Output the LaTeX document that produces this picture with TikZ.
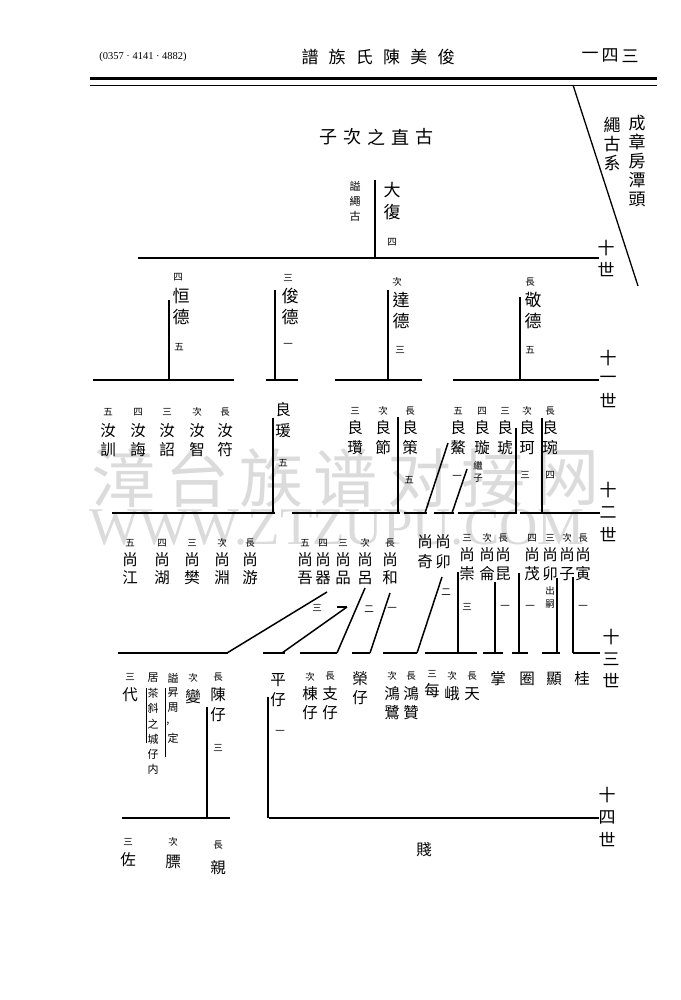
\documentclass[tikz,border=0pt]{standalone}
\usepackage{fontspec}
\newfontfamily\tc{Noto Sans CJK TC}
\newfontfamily\wmcjk{Noto Sans CJK SC}
\newfontfamily\wmlat{Liberation Serif}
\newfontfamily\hdlat{Liberation Serif}
\newcommand\vcol[6]{\foreach \c [count=\i] in {#6}{\node[#2] (#1-\i) at (#3,{#4+(\i-1)*#5}) {\c};}}
\newcommand\vl[4]{\coordinate (#1a) at (#2,#3); \coordinate (#1b) at (#2,#4); \draw[ln] (#1a) -- (#1b);}
\newcommand\hb[4]{\coordinate (#1a) at (#2,#4); \coordinate (#1b) at (#3,#4); \draw[ln] (#1a) -- (#1b);}
\newcommand\dl[5]{\coordinate (#1a) at (#2,#3); \coordinate (#1b) at (#4,#5); \draw[ln] (#1a) -- (#1b);}
\begin{document}
\begin{tikzpicture}[x=1pt,y=-1pt,
  tbig/.style={font=\tc\fontsize{17}{17}\selectfont, inner sep=0pt},
  tmid/.style={font=\tc\fontsize{15.5}{15.5}\selectfont, inner sep=0pt},
  tsml/.style={font=\tc\fontsize{9.5}{9.5}\selectfont, inner sep=0pt},
  tnote/.style={font=\tc\fontsize{11}{11}\selectfont, inner sep=0pt},
  ln/.style={line width=1.5pt},
  hair/.style={line width=0.5pt},
  wmark/.style={text=black!14, inner sep=0pt}]
\useasboundingbox (0,0) rectangle (680,1000);
\fill[white] (0,0) rectangle (680,1000);
% watermark
\foreach \w [count=\i] in {漳,台,族,谱,对,接,网}{\node[wmark, font=\wmcjk\fontsize{64}{64}\selectfont] (wm-\i) at ({123+(\i-1)*74},478) {\w};}
\node[wmark, font=\wmlat\fontsize{53}{53}\selectfont] (wmurl) at (337,527) {WWW.ZTZUPU.COM};
% header
\node[font=\hdlat\fontsize{10.5}{10.5}\selectfont, inner sep=0pt] (code) at (143,57) {(0357 · 4141 · 4882)};
\foreach \t [count=\i] in {譜,族,氏,陳,美,俊}{\node[tbig] (tt-\i) at ({310+(\i-1)*27.2},57) {\t};}
\foreach \t [count=\i] in {一,四,三}{\node[tbig] (pn-\i) at ({590+(\i-1)*20},56) {\t};}
\coordinate (r1a) at (90,79); \coordinate (r1b) at (657,79);
\draw[line width=3pt] (r1a) -- (r1b);
\coordinate (r2a) at (90,85); \coordinate (r2b) at (657,85);
\draw[line width=0.8pt] (r2a) -- (r2b);
\coordinate (dga) at (573,85); \coordinate (dgb) at (638,286);
\draw[line width=1.3pt] (dga) -- (dgb);
% right side
\vcol{cz}{tbig}{637}{123}{19}{成,章,房,潭,頭}
\vcol{sg}{tbig}{612}{125}{19}{繩,古,系}
% title
\foreach \t [count=\i] in {子,次,之,直,古}{\node[tbig, font=\tc\fontsize{18}{18}\selectfont] (ti-\i) at ({328+(\i-1)*24},137) {\t};}
% generation 10
\vcol{df}{tbig}{392}{190}{22}{大,復}
\node[tsml] (df-n) at (392,242) {四};
\vcol{dfs}{tnote}{355}{186}{15}{謚,繩,古}
\vl{dfl}{375}{180}{258}
\hb{g10}{138}{599}{258}
\vcol{s10}{tbig}{606}{248}{22}{十,世}
% generation 11
\node[tsml] (hd-o) at (178,277) {四}; \vcol{hd}{tbig}{181}{296}{21}{恒,德} \node[tsml] (hd-n) at (179,347) {五};
\vl{hdl}{169}{300}{380}
\node[tsml] (jd-o) at (288,278) {三}; \vcol{jd}{tbig}{290}{296}{21}{俊,德} \node[tsml] (jd-n) at (288,345) {一};
\vl{jdl}{275}{290}{380}
\node[tsml] (dd-o) at (397,282) {次}; \vcol{dd}{tbig}{401}{300}{21}{達,德} \node[tsml] (dd-n) at (400,350) {三};
\vl{ddl}{388}{290}{380}
\node[tsml] (jn-o) at (530,282) {長}; \vcol{jn}{tbig}{533}{300}{21}{敬,德} \node[tsml] (jn-n) at (530,350) {五};
\vl{jnl}{520}{297}{380}
\hb{g11a}{93}{234}{380}
\hb{g11b}{266}{298}{380}
\hb{g11c}{335}{422}{380}
\hb{g11d}{453}{599}{380}
\vcol{s11}{tbig}{608}{358}{21.5}{十,一,世}
% generation 12
\foreach \x/\o/\n [count=\i] in {108/五/訓,138/四/誨,167/三/詔,197/次/智,225/長/符}{
  \node[tsml] (ru-o\i) at (\x,412) {\o};
  \node[tmid] (ru-a\i) at (\x,431) {汝};
  \node[tmid] (ru-b\i) at (\x,450) {\n};}
\vcol{ly}{tmid}{283}{410}{21}{良,瑗} \node[tsml] (ly-n) at (283,463) {五};
\vl{lyl}{273}{418}{513}
\foreach \x/\o/\n [count=\i] in {355/三/瓚,383/次/節,410/長/策,458/五/鰲,482/四/璇,505/三/琥,527/次/珂,550/長/琬}{
  \node[tsml] (lg-o\i) at (\x,411) {\o};
  \node[tmid] (lg-a\i) at (\x,428) {良};
  \node[tmid] (lg-b\i) at (\x,448) {\n};}
\node[tsml] (lc-n) at (409,480) {五};
\vl{lcl}{398}{417}{513}
\node[tsml] (la-n) at (457,477) {一};
\dl{lal}{448}{443}{425}{513}
\vcol{jz}{tsml}{478}{466}{12}{繼,子}
\dl{lxl}{467}{469}{452}{513}
\vl{lkl}{516}{428}{513} \node[tsml] (lk-n) at (525,475) {三};
\vl{lwl}{542}{418}{513} \node[tsml] (lw-n) at (550,475) {四};
\hb{g12a}{112}{275}{513}
\hb{g12b}{292}{400}{513}
\hb{g12c}{404}{427}{513}
\hb{g12d}{434}{454}{513}
\hb{g12e}{458}{517}{513}
\hb{g12f}{520}{600}{513}
\vcol{s12}{tbig}{608}{490}{22.5}{十,二,世}
% generation 13
\foreach \x/\o/\n [count=\i] in {130/五/江,162/四/湖,192/三/樊,222/次/淵,250/長/游,305/五/吾,323/四/器,343/三/品,365/次/呂,390/長/和}{
  \node[tsml] (sa-o\i) at (\x,543) {\o};
  \node[tmid] (sa-a\i) at (\x,560) {尚};
  \node[tmid] (sa-b\i) at (\x,578) {\n};}
\vcol{sq}{tmid}{425}{542}{20}{尚,奇}
\vcol{smo}{tmid}{443}{542}{20}{尚,卯}
\foreach \x/\o/\n [count=\i] in {467/三/崇,487/次/侖,503/長/昆,532/四/茂,550/三/卯,567/次/子,583/長/寅}{
  \node[tsml] (sb-o\i) at (\x,538) {\o};
  \node[tmid] (sb-a\i) at (\x,555) {尚};
  \node[tmid] (sb-b\i) at (\x,574) {\n};}
\vcol{cs}{tsml}{550}{591}{13}{出,嗣}
\dl{sql}{327}{592}{227}{653}
\dl{spl}{347}{607}{282}{653}
\coordinate (sptk) at (337,607); \draw[ln] (sptk) -- (spla);
\dl{srl}{365}{588}{337}{653}
\dl{shl}{390}{593}{370}{653}
\node[tsml] (sq-n) at (317,608) {三};
\node[tsml] (sr-n) at (369,609) {二};
\node[tsml] (sh-n) at (392,609) {一};
\dl{sml}{442}{577}{417}{653} \node[tsml] (sm-n) at (446,592) {二};
\vl{scl}{458}{572}{653} \node[tsml] (sc-n) at (467,607) {三};
\vl{skl}{495}{582}{653} \node[tsml] (sk-n) at (505,607) {一};
\vl{sol}{519}{573}{653} \node[tsml] (so-n) at (530,607) {一};
\vl{szl}{557}{578}{653}
\vl{syl}{573}{577}{653} \node[tsml] (sy-n) at (583,607) {一};
\hb{g13a}{118}{228}{653}
\hb{g13b}{263}{285}{653}
\hb{g13c}{300}{337}{653}
\hb{g13d}{352}{370}{653}
\hb{g13e}{383}{417}{653}
\hb{g13f}{425}{477}{653}
\hb{g13g}{483}{503}{653}
\hb{g13h}{512}{528}{653}
\hb{g13i}{542}{560}{653}
\hb{g13j}{573}{600}{653}
\vcol{s13}{tbig}{611}{637}{22}{十,三,世}
% generation 14
\node[tsml] (dai-o) at (130,677) {三}; \node[tmid] (dai) at (130,695) {代};
\vcol{jc}{tnote}{153}{678}{15.3}{居,茶,斜,之,城,仔,内}
\coordinate (bk1a) at (146,688); \coordinate (bk1b) at (146,743); \draw[hair] (bk1a) -- (bk1b);
\coordinate (bk2a) at (165,688); \coordinate (bk2b) at (165,757); \draw[hair] (bk2a) -- (bk2b);
\vcol{ss}{tnote}{173}{678}{15}{謚,昇,周}
\node[tnote] (ss-c) at (168,724) {,};
\node[tnote] (ss-d) at (173,738) {定};
\node[tsml] (bn-o) at (193,678) {次}; \node[tmid] (bn) at (193,697) {變};
\node[tsml] (czo) at (218,677) {長}; \vcol{czi}{tmid}{218}{695}{20}{陳,仔} \node[tsml] (czi-n) at (218,748) {三};
\vl{czl}{207}{707}{818}
\vcol{pz}{tmid}{278}{680}{20}{平,仔} \node[tsml] (pz-n) at (280,732) {一};
\vl{pzl}{268}{697}{818}
\node[tsml] (dz-o) at (310,677) {次}; \vcol{dz}{tmid}{310}{694}{19}{棟,仔}
\node[tsml] (zz-o) at (330,676) {長}; \vcol{zz}{tmid}{330}{694}{19}{支,仔}
\vcol{rz}{tmid}{360}{679}{19}{榮,仔}
\node[tsml] (hl-o) at (392,676) {次}; \vcol{hl}{tmid}{392}{694}{19}{鴻,鷺}
\node[tsml] (hz-o) at (411,676) {長}; \vcol{hz}{tmid}{411}{694}{19}{鴻,贊}
\node[tsml] (mm-o) at (432,674) {三}; \node[tmid] (mm) at (432,691) {每};
\node[tsml] (ee-o) at (452,676) {次}; \node[tmid] (ee) at (452,694) {峨};
\node[tsml] (tto) at (472,676) {長}; \node[tmid] (tt2) at (472,694) {天};
\node[tmid] (zh) at (498,679) {掌};
\node[tmid] (qu) at (527,679) {圈};
\node[tmid] (xi) at (554,679) {顯};
\node[tmid] (gu) at (582,679) {桂};
\hb{g14a}{122}{230}{818}
\hb{g14b}{269}{599}{818}
\vcol{s14}{tbig}{607}{795}{22.5}{十,四,世}
% generation 15
\node[tsml] (zu-o) at (128,842) {三}; \node[tmid] (zu) at (128,860) {佐};
\node[tsml] (pi-o) at (173,842) {次}; \node[tmid] (pi) at (173,862) {膘};
\node[tsml] (qi-o) at (218,845) {長}; \node[tmid] (qi) at (218,868) {親};
\node[tmid] (jian) at (424,850) {賤};
\end{tikzpicture}
\end{document}
